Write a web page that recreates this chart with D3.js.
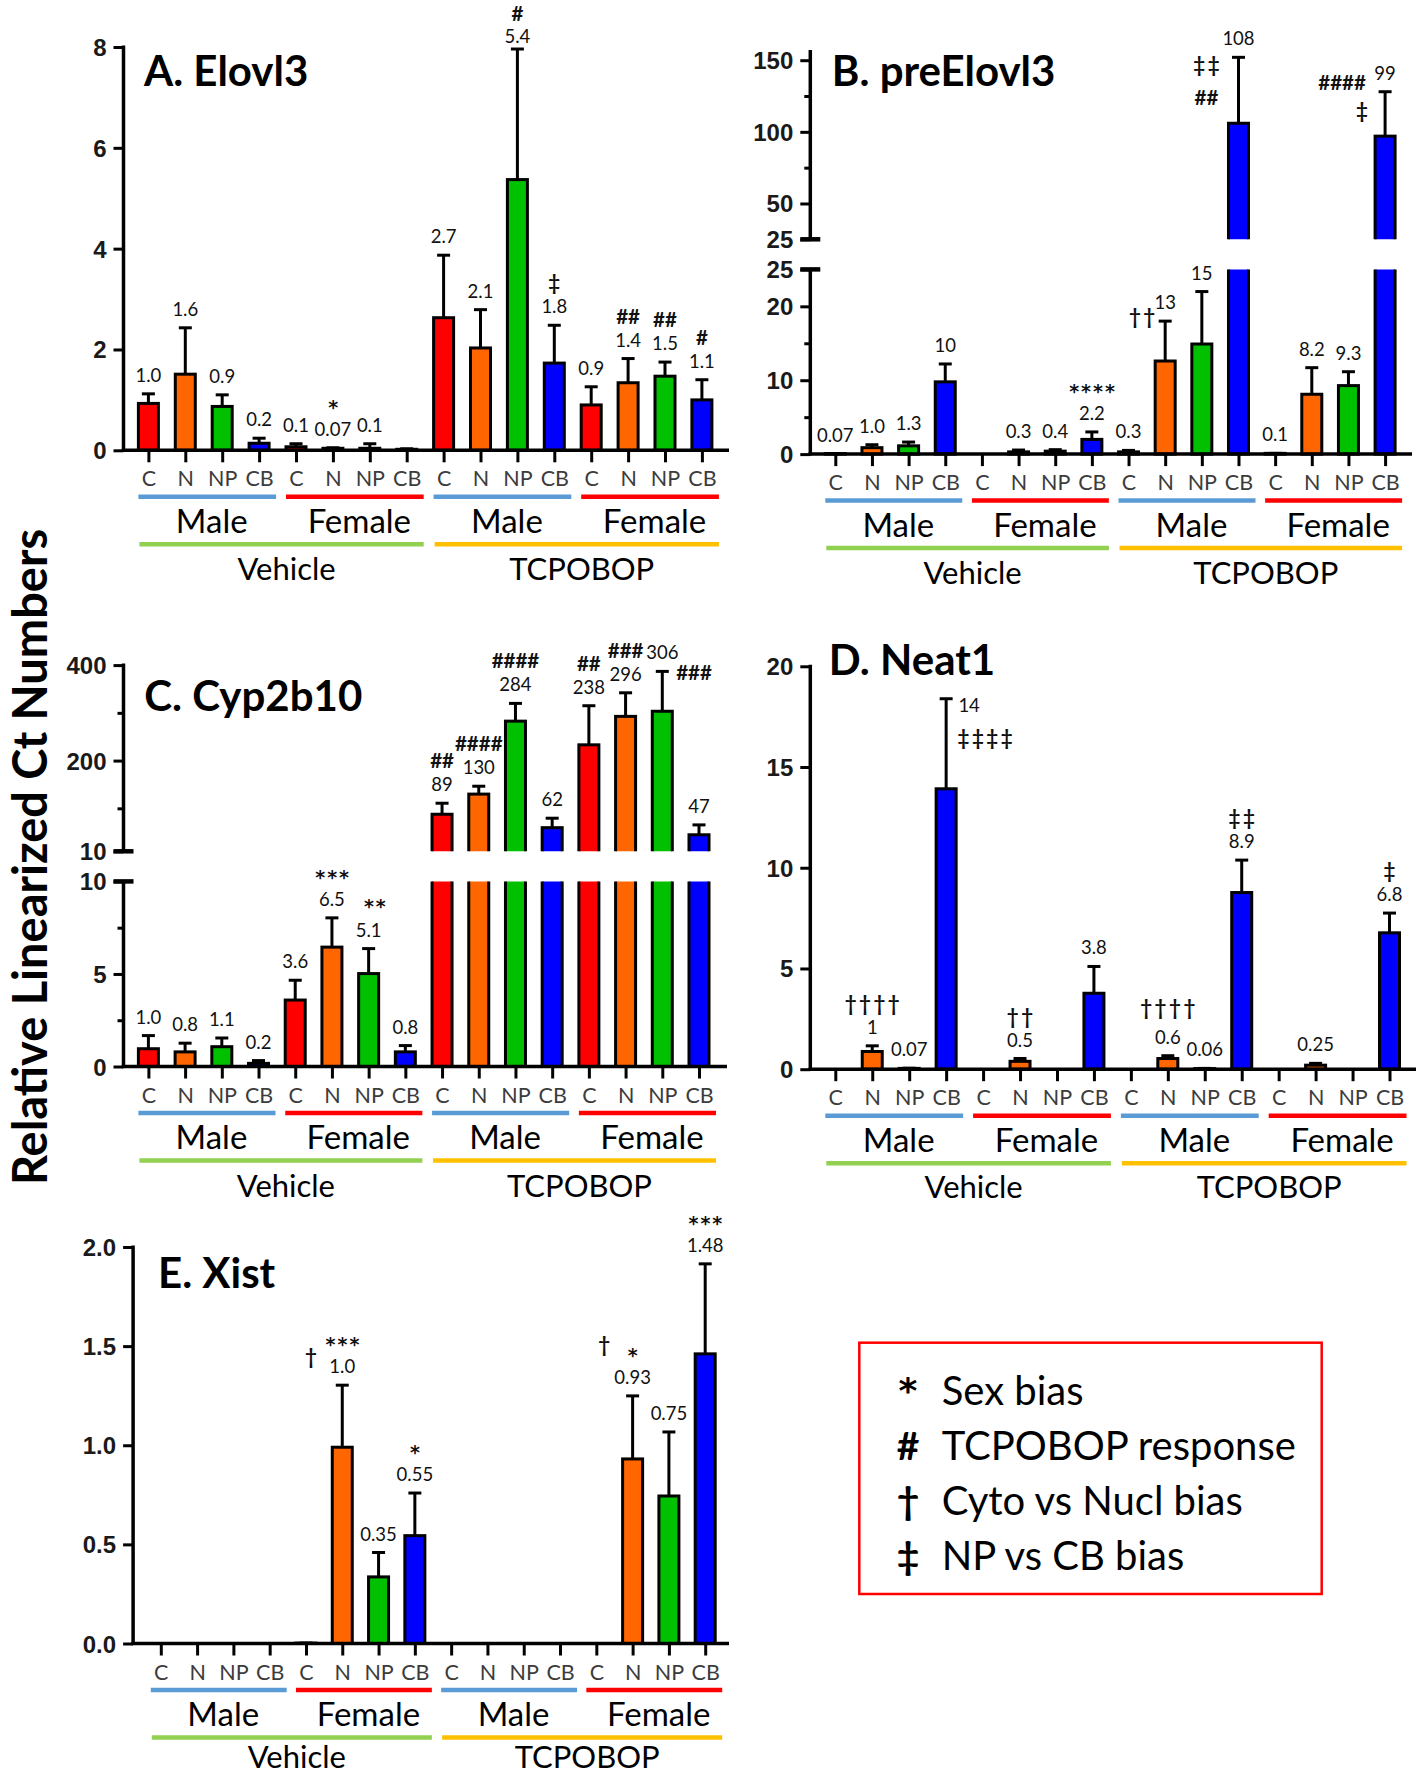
<!DOCTYPE html>
<html><head><meta charset="utf-8">
<script src="https://cdn.jsdelivr.net/npm/d3@7"></script>
<style>
html,body{margin:0;padding:0;background:#fff;}
svg{display:block;}
</style></head>
<body>
<svg id="chart" width="1418" height="1774"></svg>
<script>
// ================= DATA =================
const fractions = ["C","N","NP","CB"];
const sexes = ["Male","Female"];
const treatments = ["Vehicle","TCPOBOP"];
const legendSymbols = ["*","#","†","‡"];
const legendTexts = ["Sex bias","TCPOBOP response","Cyto vs Nucl bias","NP vs CB bias"];
const yAxisTitle = "Relative Linearized Ct Numbers";

// A. Elovl3
const elovl3Mean   = [0.93,1.51,0.87,0.14, 0.07,0.04,0.04,0.02, 2.63,2.03,5.37,1.73, 0.90,1.34,1.47,1.00];
const elovl3Upper  = [1.12,2.43,1.10,0.24, 0.13,0.05,0.13,0.03, 3.87,2.79,7.96,2.48, 1.26,1.82,1.75,1.40];
const elovl3Labels = ["1.0","1.6","0.9","0.2","0.1","0.07","0.1","","2.7","2.1","5.4","1.8","0.9","1.4","1.5","1.1"];
const elovl3Sig    = ["","","","","","*","","","","","#","‡","","##","##","#"];
const elovl3Ticks  = [0,2,4,6,8];

// B. preElovl3
const preElovl3Mean   = [0.07,0.87,1.12,9.78, 0,0.30,0.40,1.99, 0.30,12.6,14.9,106, 0.10,8.1,9.27,97];
const preElovl3Upper  = [0.07,1.27,1.63,12.2, 0,0.55,0.60,3.0, 0.50,18.0,22.0,152, 0.10,11.7,11.15,128];
const preElovl3Labels = ["0.07","1.0","1.3","10","","0.3","0.4","2.2","0.3","13","15","108","0.1","8.2","9.3","99"];
const preElovl3Sig    = ["","","","","","","","****","","††","","‡‡\n##","","","","####\n‡"];
const preElovl3LowTicks = [0,10,20,25];
const preElovl3LowMinor = [5,15];
const preElovl3HighTicks = [25,50,100,150];
const preElovl3HighMinor = [75,125];

// C. Cyp2b10
const cyp2b10Mean   = [0.96,0.79,1.07,0.17, 3.59,6.45,5.02,0.79, 87.6,129.8,282.6,59.5, 233,292.6,303.3,44.6];
const cyp2b10Upper  = [1.67,1.26,1.54,0.32, 4.66,8.03,6.37,1.13, 110.7,146.3,319.8,79.3, 314.9,342,386.8,65.3];
const cyp2b10Labels = ["1.0","0.8","1.1","0.2","3.6","6.5","5.1","0.8","89","130","284","62","238","296","306","47"];
const cyp2b10Sig    = ["","","","","","***","**","","##","####","####","","##","###","","###"];
const cyp2b10LowTicks = [0,5,10];
const cyp2b10LowMinor = [2.5,7.5];
const cyp2b10HighTicks = [10,200,400];
const cyp2b10HighMinor = [100,300];

// D. Neat1
const neat1Mean   = [0,0.88,0.04,13.92, 0,0.39,0,3.77, 0,0.53,0.03,8.77, 0,0.20,0,6.77];
const neat1Upper  = [0,1.16,0.05,18.39, 0,0.53,0,5.10, 0,0.67,0.04,10.38, 0,0.29,0,7.75];
const neat1Labels = ["","1","0.07","14","","0.5","","3.8","","0.6","0.06","8.9","","0.25","","6.8"];
const neat1Sig    = ["","††††","","‡‡‡‡","","††","","","","††††","","‡‡","","","","‡"];
const neat1Ticks  = [0,5,10,15,20];

// E. Xist
const xistMean   = [0,0,0,0, 0.002,0.99,0.336,0.544, 0,0,0,0, 0,0.931,0.744,1.461];
const xistUpper  = [0,0,0,0, 0.002,1.303,0.459,0.759, 0,0,0,0, 0,1.249,1.067,1.915];
const xistLabels = ["","","","","","1.0","0.35","0.55","","","","","","0.93","0.75","1.48"];
const xistSig    = ["","","","","†","***","","*","","","","","†","*","","***"];
const xistTicks  = [0,0.5,1.0,1.5,2.0];

// ================= STYLE / LAYOUT =================
const barColors = ["#ff0000","#ff6600","#00c000","#0000ff"];
const sexColors = ["#5b9bd5","#ff0000"];
const treatColors = ["#92d050","#ffc000"];
const FONT = "Lato, 'Open Sans', sans-serif";
const TICKFONT = "'Liberation Sans', Arial, sans-serif";
const STARFONT = "'DejaVu Sans', sans-serif";
const barW = 20;

const panels = [
  {key:"A", title:"A. Elovl3", titleX:144, titleY:85.6, axisX:123.5, xEnd:729, xFirst:148.4, xLast:701.9, zeroY:450.3,
   segments:[{domain:[0,8], range:[450.3,47], ticks:elovl3Ticks, minor:[], top:8}],
   mean:elovl3Mean, upper:elovl3Upper, labels:elovl3Labels, sig:elovl3Sig, fmt:d3.format("d"), treatDy:118},
  {key:"B", title:"B. preElovl3", titleX:831.8, titleY:85.8, axisX:810.3, xEnd:1412, xFirst:835.3, xLast:1385.1, zeroY:454.1,
   segments:[{domain:[0,25], range:[454.1,269.4], ticks:preElovl3LowTicks, minor:preElovl3LowMinor, top:25, capTop:true},
             {domain:[25,150], range:[239.3,60.2], ticks:preElovl3HighTicks, minor:preElovl3HighMinor, top:156, capBottom:true}],
   mean:preElovl3Mean, upper:preElovl3Upper, labels:preElovl3Labels, sig:preElovl3Sig, fmt:d3.format("d"), treatDy:118},
  {key:"C", title:"C. Cyp2b10", titleX:144.3, titleY:710.6, axisX:123.5, xEnd:727, xFirst:148.4, xLast:699, zeroY:1066.5,
   segments:[{domain:[0,10], range:[1066.5,881.4], ticks:cyp2b10LowTicks, minor:cyp2b10LowMinor, top:10, capTop:true},
             {domain:[10,400], range:[851.3,665.1], ticks:cyp2b10HighTicks, minor:cyp2b10HighMinor, top:400, capBottom:true}],
   mean:cyp2b10Mean, upper:cyp2b10Upper, labels:cyp2b10Labels, sig:cyp2b10Sig, fmt:d3.format("d"), treatDy:118},
  {key:"D", title:"D. Neat1", titleX:828.7, titleY:675, axisX:810.3, xEnd:1416, xFirst:835.3, xLast:1389.5, zeroY:1069.2,
   segments:[{domain:[0,20], range:[1069.2,666.3], ticks:neat1Ticks, minor:[], top:20}],
   mean:neat1Mean, upper:neat1Upper, labels:neat1Labels, sig:neat1Sig, fmt:d3.format("d"), treatDy:116.5},
  {key:"E", title:"E. Xist", titleX:158, titleY:1288.4, axisX:133.1, xEnd:729, xFirst:160.8, xLast:705.2, zeroY:1643.5,
   segments:[{domain:[0,2], range:[1643.5,1247], ticks:xistTicks, minor:[], top:2}],
   mean:xistMean, upper:xistUpper, labels:xistLabels, sig:xistSig, fmt:d3.format(".1f"), treatDy:112.5}
];

// annotation placement tweaks (layout only)
const annotOverrides = {
  "A-10": {label:{dx:0, dy:6}, sig:[{dx:0, dy:-23.5}]},
  "B-9":  {sig:[{dx:-23, dy:14}]},
  "B-11": {sig:[{dx:-32, dy:26},{dx:-32, dy:59}]},
  "B-15": {sig:[{dx:-43, dy:9},{dx:-23, dy:37}]},
  "C-6":  {sig:[{dx:6, dy:-26}]},
  "C-15": {sig:[{dx:-5, dy:-134}]},
  "D-3":  {label:{dx:23, dy:25}, sig:[{dx:39, dy:32}]},
  "D-9":  {sig:[{dx:0, dy:-30}]},
  "E-4":  {sig:[{dx:5, dy:-268}]},
  "E-12": {sig:[{dx:8, dy:-281}]}
};

const svg = d3.select("#chart");
const defs = svg.append("defs");
svg.append("rect").attr("width",1418).attr("height",1774).attr("fill","#fff");

function drawPanel(p) {
  const g = svg.append("g").attr("class","panel-"+p.key);
  const x = d3.scalePoint().domain(d3.range(16)).range([p.xFirst, p.xLast]);
  const segs = p.segments.map(s => Object.assign({}, s, {y: d3.scaleLinear().domain(s.domain).range(s.range)}));
  const segFor = v => segs.find((s,i) => i === segs.length-1 || v <= s.domain[1]);

  // clip paths for broken axes
  if (segs.length > 1) {
    segs.forEach((s,si) => {
      const id = `clip-${p.key}-${si}`;
      const top = s.y(s.domain[1]);
      const bottom = s.y(s.domain[0]);
      const cy0 = si === segs.length-1 ? 0 : top;
      const cy1 = si === 0 ? bottom + 30 : bottom;
      defs.append("clipPath").attr("id", id).append("rect")
        .attr("x",0).attr("y",cy0).attr("width",1418).attr("height",cy1-cy0);
      s.clip = id;
    });
  }

  // error bars
  const eg = g.append("g").attr("stroke","#000").attr("stroke-width",3).attr("fill","none");
  p.mean.forEach((v,i) => {
    const up = p.upper[i];
    if (!(up > v) && !(v > 0)) return;
    const s = segFor(up);
    const yv = s.y(Math.max(v, s.domain[0]));
    const yu = s.y(up);
    eg.append("line").attr("x1",x(i)).attr("x2",x(i)).attr("y1",yv).attr("y2",yu);
    eg.append("line").attr("x1",x(i)-6.5).attr("x2",x(i)+6.5).attr("y1",yu).attr("y2",yu);
  });

  // bars
  segs.forEach((s,si) => {
    const bg = g.append("g");
    if (s.clip) bg.attr("clip-path", `url(#${s.clip})`);
    p.mean.forEach((v,i) => {
      if (si > 0 && v <= s.domain[0]) return;
      const yBase = si === 0 ? s.y(0) : s.y(s.domain[0]) + 8;
      const vTop = (si < segs.length-1) ? Math.min(v, s.domain[1]*1.2) : v;
      const yTop = s.y(vTop);
      bg.append("rect")
        .attr("x", x(i)-barW/2).attr("y", yTop)
        .attr("width", barW).attr("height", Math.max(0, yBase-yTop))
        .attr("fill", barColors[i%4]).attr("stroke","#000").attr("stroke-width",3);
    });
  });

  // y axis
  segs.forEach((s,si) => {
    const ag = g.append("g").attr("transform",`translate(${p.axisX},0)`);
    ag.call(d3.axisLeft(s.y).tickValues(s.ticks).tickSize(10).tickSizeOuter(0).tickPadding(7).tickFormat(p.fmt));
    ag.select(".domain").remove();
    ag.selectAll(".tick line").attr("stroke","#000").attr("stroke-width",3);
    ag.selectAll(".tick text").attr("font-family",TICKFONT).attr("font-weight","bold")
      .attr("font-size",24).attr("fill","#1a1a1a").attr("dy",null).attr("dominant-baseline","central");
    if (s.minor.length) {
      const mg = g.append("g").attr("transform",`translate(${p.axisX},0)`);
      mg.call(d3.axisLeft(s.y).tickValues(s.minor).tickSize(6).tickSizeOuter(0).tickFormat(""));
      mg.select(".domain").remove();
      mg.selectAll(".tick line").attr("stroke","#000").attr("stroke-width",3);
    }
    const yBottom = si === 0 ? s.y(s.domain[0]) + 1.5 : s.y(s.domain[0]);
    g.append("line").attr("x1",p.axisX).attr("x2",p.axisX)
      .attr("y1", yBottom).attr("y2", s.y(s.top)-1.5)
      .attr("stroke","#000").attr("stroke-width",3.5);
    if (s.capTop) g.append("line").attr("x1",p.axisX-10).attr("x2",p.axisX+10)
      .attr("y1",s.y(s.domain[1])).attr("y2",s.y(s.domain[1])).attr("stroke","#000").attr("stroke-width",4.5);
    if (s.capBottom) g.append("line").attr("x1",p.axisX-10).attr("x2",p.axisX+10)
      .attr("y1",s.y(s.domain[0])).attr("y2",s.y(s.domain[0])).attr("stroke","#000").attr("stroke-width",4.5);
  });

  // x axis
  const xg = g.append("g").attr("transform",`translate(0,${p.zeroY})`);
  xg.call(d3.axisBottom(x).tickSize(12).tickSizeOuter(0).tickFormat(i => fractions[i%4]));
  xg.select(".domain").remove();
  xg.selectAll(".tick line").attr("stroke","#000").attr("stroke-width",3);
  xg.selectAll(".tick text").attr("y",28).attr("dy",null).attr("dominant-baseline","central")
    .attr("font-family",FONT).attr("font-size",21.5).attr("fill","#3c3c3c");
  g.append("line").attr("x1",p.axisX-1.75).attr("x2",p.xEnd).attr("y1",p.zeroY).attr("y2",p.zeroY)
    .attr("stroke","#000").attr("stroke-width",3.5);

  // group lines & labels
  treatments.forEach((t,ti) => {
    sexes.forEach((sx,si) => {
      const i0 = ti*8 + si*4, i3 = i0 + 3;
      g.append("line").attr("x1",x(i0)-10).attr("x2",x(i3)+17)
        .attr("y1",p.zeroY+46.5).attr("y2",p.zeroY+46.5)
        .attr("stroke",sexColors[si]).attr("stroke-width",4.5);
      g.append("text").attr("x",(x(i0)+x(i3))/2+8).attr("y",p.zeroY+69.5)
        .attr("text-anchor","middle").attr("dominant-baseline","central")
        .attr("font-family",FONT).attr("font-size",33).attr("fill","#000").text(sx);
    });
    const j0 = ti*8, j7 = ti*8+7;
    g.append("line").attr("x1",x(j0)-9).attr("x2",x(j7)+17)
      .attr("y1",p.zeroY+94).attr("y2",p.zeroY+94)
      .attr("stroke",treatColors[ti]).attr("stroke-width",4.5);
    g.append("text").attr("x",(x(j0)+x(j7))/2+9).attr("y",p.zeroY+p.treatDy)
      .attr("text-anchor","middle").attr("dominant-baseline","central")
      .attr("font-family",FONT).attr("font-size",31).attr("fill","#000").text(t);
  });

  // annotations
  const ng = g.append("g");
  p.labels.forEach((lab,i) => {
    const ov = annotOverrides[`${p.key}-${i}`] || {};
    const up = Math.max(p.upper[i], p.mean[i]);
    const s = segFor(up);
    let lx = x(i), ly = s.y(up) - 19;
    if (ov.label) { lx += ov.label.dx; ly += ov.label.dy; }
    if (lab) {
      ng.append("text").attr("x",lx).attr("y",ly).attr("text-anchor","middle")
        .attr("dominant-baseline","central").attr("font-family",FONT)
        .attr("font-size",18.5).attr("fill","#111").text(lab);
    }
    const sg = p.sig[i];
    if (sg) {
      const lines = sg.split("\n");
      lines.forEach((ln,li) => {
        let sx = x(i), sy;
        if (ov.sig && ov.sig[li]) { sx += ov.sig[li].dx; sy = ly + ov.sig[li].dy; }
        else { sy = (lab ? ly - 24 : ly) - li*30; }
        const star = ln.includes("*");
        const dag = /[†‡]/.test(ln);
        ng.append("text").attr("x",sx + (star || dag ? 1.2 : 0)).attr("y", sy + (star ? 2 : 0))
          .attr("text-anchor","middle").attr("dominant-baseline","central")
          .attr("font-family", star ? STARFONT : FONT).attr("font-weight","bold")
          .attr("font-size", star ? 19 : 20.5)
          .attr("letter-spacing", star ? 2 : (dag ? 2.5 : 0))
          .attr("fill","#111").text(ln);
      });
    }
  });

  // title
  g.append("text").attr("x",p.titleX).attr("y",p.titleY)
    .attr("font-family",FONT).attr("font-weight","bold").attr("font-size",42)
    .attr("fill","#000").text(p.title);
}

panels.forEach(drawPanel);

// y axis title
svg.append("text").attr("transform","translate(28.5,857) rotate(-90)")
  .attr("text-anchor","middle").attr("dominant-baseline","central")
  .attr("font-family",FONT).attr("font-weight","bold").attr("font-size",47)
  .attr("fill","#000").text(yAxisTitle);

// legend
const lg = svg.append("g");
lg.append("rect").attr("x",859.3).attr("y",1342.7).attr("width",462.4).attr("height",251.3)
  .attr("fill","none").attr("stroke","#ff0000").attr("stroke-width",2.5);
legendSymbols.forEach((sym,k) => {
  const by = 1405 + k*55;
  lg.append("text").attr("x",908).attr("y",by - (sym === "*" ? 2 : 0)).attr("text-anchor","middle")
    .attr("font-family", sym === "*" ? STARFONT : FONT).attr("font-weight","bold").attr("font-size", sym === "*" ? 36 : 39)
    .attr("fill","#000").text(sym);
  lg.append("text").attr("x",941.7).attr("y",by)
    .attr("font-family",FONT).attr("font-size",40).attr("fill","#000").text(legendTexts[k]);
});
</script>
</body></html>
